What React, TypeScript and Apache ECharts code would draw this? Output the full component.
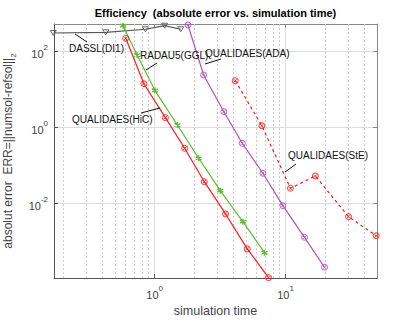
import React, { useEffect, useRef } from 'react';
import * as echarts from 'echarts';

// ---- data ----
const dasslX = [0.168, 0.423, 0.85, 1.19, 1.58];
const dasslY = [303, 316, 380, 472, 380];

const radauX = [0.573, 0.733, 1.003, 1.49, 2.17, 3.17, 4.72, 6.91];
const radauY = [472, 80, 9.4, 1.15, 0.153, 0.0215, 0.00328, 0.0005];

const hicX = [0.601, 0.827, 1.207, 1.694, 2.394, 3.48, 5.1, 7.42];
const hicY = [220, 14.0, 1.79, 0.28, 0.037, 0.00524, 0.00063, 0.00011];

const adaX = [1.796, 2.366, 3.376, 4.67, 6.71, 9.54, 13.96, 19.85];
const adaY = [492, 23.8, 2.57, 0.379, 0.0616, 0.00865, 0.00127, 0.000207];

const steX = [4.13, 6.59, 10.9, 16.9, 30.3, 49.3];
const steY = [16.8, 1.1, 0.0248, 0.0524, 0.00444, 0.0014];

const xMajor = [1, 10];
const xMinor = [0.2, 0.3, 0.4, 0.5, 0.6, 0.7, 0.8, 0.9, 2, 3, 4, 5, 6, 7, 8, 9, 20, 30, 40];
const yMajor = [0.01, 1, 100];

const xMin = 0.17;
const xMax = 50;
const yMin = 1.08e-4;
const yMax = 523;

const FONT = 'Liberation Sans, Arial, Helvetica, sans-serif';

const pair = (xs: number[], ys: number[]) => xs.map((x, i) => [x, ys[i]]);

const circleX = 'path://M2,12A10,10,0,1,0,22,12A10,10,0,1,0,2,12Z M7,7L17,17M17,7L7,17';
const asterisk = 'path://M10,0L10,20M1,5L19,15M19,5L1,15M4,4L16,16';
const triDown = 'path://M0,0L10,0L5,9Z';

const RED = '#ff1a1a';
const GREEN = '#5cbb2e';
const MAGENTA = '#b450b4';
const DARK = '#555555';

const supLabel = (v: number) => {
  const e = Math.round(Math.log10(v));
  return `{b|10}{s|${e}}`;
};
const richTick = {
  b: { fontSize: 11, fontFamily: FONT, color: '#444', lineHeight: 16, verticalAlign: 'bottom' },
  s: { fontSize: 8, fontFamily: FONT, color: '#444', lineHeight: 8, verticalAlign: 'top' },
};

export default function App() {
  const ref = useRef<HTMLDivElement>(null);
  useEffect(() => {
    const chart = echarts.init(ref.current!, null, { renderer: 'svg' });
    const lineSeries = (
      name: string,
      xs: number[],
      ys: number[],
      color: string,
      symbol: string,
      size: any,
      dashed: boolean,
      fill: string,
      bw: number
    ) => ({
      name,
      type: 'line',
      data: pair(xs, ys),
      xAxisIndex: 0,
      yAxisIndex: 0,
      symbol,
      symbolSize: size,
      showAllSymbol: true,
      clip: false,
      z: 3,
      lineStyle: { color, width: 1.2, type: dashed ? [3, 3] : 'solid' },
      itemStyle: { color: fill, borderColor: color, borderWidth: bw },
    });

    const annotations: any[] = [];
    const addLabel = (text: string, x: number, y: number, l: number[]) => {
      annotations.push({
        type: 'text',
        x,
        y,
        style: { text, fill: '#111', font: `10px ${FONT}`, textVerticalAlign: 'middle', textAlign: 'left' },
        z: 10,
      });
      annotations.push({
        type: 'line',
        shape: { x1: l[0], y1: l[1], x2: l[2], y2: l[3] },
        style: { stroke: '#111', lineWidth: 1 },
        z: 10,
      });
    };
    addLabel('DASSL(DI1)', 69, 48, [75, 34, 87, 42]);
    addLabel('RADAU5(GGL)', 140, 55, [146, 70, 157, 63]);
    addLabel('QUALIDAES(ADA)', 205, 53, [205, 64, 221, 59]);
    addLabel('QUALIDAES(HiC)', 72, 119, [141, 113, 160, 108]);
    addLabel('QUALIDAES(StE)', 288, 155, [285, 172, 296, 164]);

    const option: any = {
      animation: false,
      backgroundColor: '#ffffff',
      grid: { left: 54, right: 23, top: 24, bottom: 47, containLabel: false, outerBoundsMode: 'none' },
      xAxis: [
        {
          type: 'log',
          logBase: 10,
          min: xMin,
          max: xMax,
          position: 'bottom',
          name: 'simulation time',
          nameLocation: 'middle',
          nameGap: 26,
          nameTextStyle: { fontSize: 12.5, fontFamily: FONT, color: '#444' },
          axisLine: { show: true, lineStyle: { color: '#555', width: 1 } },
          axisTick: { show: true, inside: true, length: 4, customValues: xMajor, lineStyle: { color: '#555' } },
          axisLabel: { show: true, margin: 6, customValues: xMajor, formatter: supLabel, rich: richTick },
          splitLine: { show: true, lineStyle: { color: '#dddddd', width: 1 } },
        },
        {
          type: 'log',
          logBase: 10,
          min: xMin,
          max: xMax,
          position: 'top',
          axisLine: { show: true, lineStyle: { color: '#888', width: 1 } },
          axisTick: { show: true, inside: true, length: 4, customValues: xMajor, lineStyle: { color: '#888' } },
          axisLabel: { show: false },
          splitLine: { show: false },
        },
      ],
      yAxis: [
        {
          type: 'log',
          logBase: 10,
          min: yMin,
          max: yMax,
          position: 'left',
          name: '{a|absolut error  ERR=||numsol-refsol||}{s|2}',
          nameLocation: 'middle',
          nameGap: 33,
          nameRotate: 90,
          nameTextStyle: {
            fontFamily: FONT,
            color: '#444',
            rich: {
              a: { fontSize: 12, fontFamily: FONT, color: '#444', lineHeight: 16, verticalAlign: 'top' },
              s: { fontSize: 8, fontFamily: FONT, color: '#444', lineHeight: 8, verticalAlign: 'bottom' },
            },
          },
          axisLine: { show: true, lineStyle: { color: '#555', width: 1 } },
          axisTick: { show: true, inside: true, length: 4, customValues: yMajor, lineStyle: { color: '#555' } },
          axisLabel: { show: true, margin: 6, customValues: yMajor, formatter: supLabel, rich: richTick },
          splitLine: { show: true, lineStyle: { color: '#dddddd', width: 1 } },
        },
        {
          type: 'log',
          logBase: 10,
          min: yMin,
          max: yMax,
          position: 'right',
          axisLine: { show: true, lineStyle: { color: '#888', width: 1 } },
          axisTick: { show: true, inside: true, length: 4, customValues: yMajor, lineStyle: { color: '#888' } },
          axisLabel: { show: false },
          splitLine: { show: false },
        },
      ],
      series: [
        {
          type: 'line',
          data: [],
          xAxisIndex: 0,
          yAxisIndex: 0,
          z: 1,
          markLine: {
            silent: true,
            symbol: 'none',
            z: 1,
            label: { show: false },
            lineStyle: { color: '#cccccc', width: 1, type: [2, 2] },
            data: xMinor.map((v) => ({ xAxis: v })),
          },
        },
        lineSeries('DASSL(DI1)', dasslX, dasslY, DARK, triDown, [6, 5], false, 'rgba(0,0,0,0)', 0.9),
        lineSeries('RADAU5(GGL)', radauX, radauY, GREEN, asterisk, 6, false, GREEN, 1.3),
        lineSeries('QUALIDAES(HiC)', hicX, hicY, RED, circleX, 6, false, 'rgba(0,0,0,0)', 0.9),
        lineSeries('QUALIDAES(ADA)', adaX, adaY, MAGENTA, circleX, 6, false, 'rgba(0,0,0,0)', 0.9),
        lineSeries('QUALIDAES(StE)', steX, steY, RED, circleX, 6, true, 'rgba(0,0,0,0)', 0.9),
      ],
      graphic: [
        {
          type: 'text',
          x: 215.5,
          y: 13,
          style: {
            text: 'Efficiency  (absolute error vs. simulation time)',
            fill: '#000',
            font: `bold 11px ${FONT}`,
            textAlign: 'center',
            textVerticalAlign: 'middle',
          },
        },
        ...annotations,
      ],
    };
    chart.setOption(option);
    return () => chart.dispose();
  }, []);
  return <div ref={ref} style={{ width: 400, height: 325, position: 'absolute', left: 0, top: 0 }} />;
}
